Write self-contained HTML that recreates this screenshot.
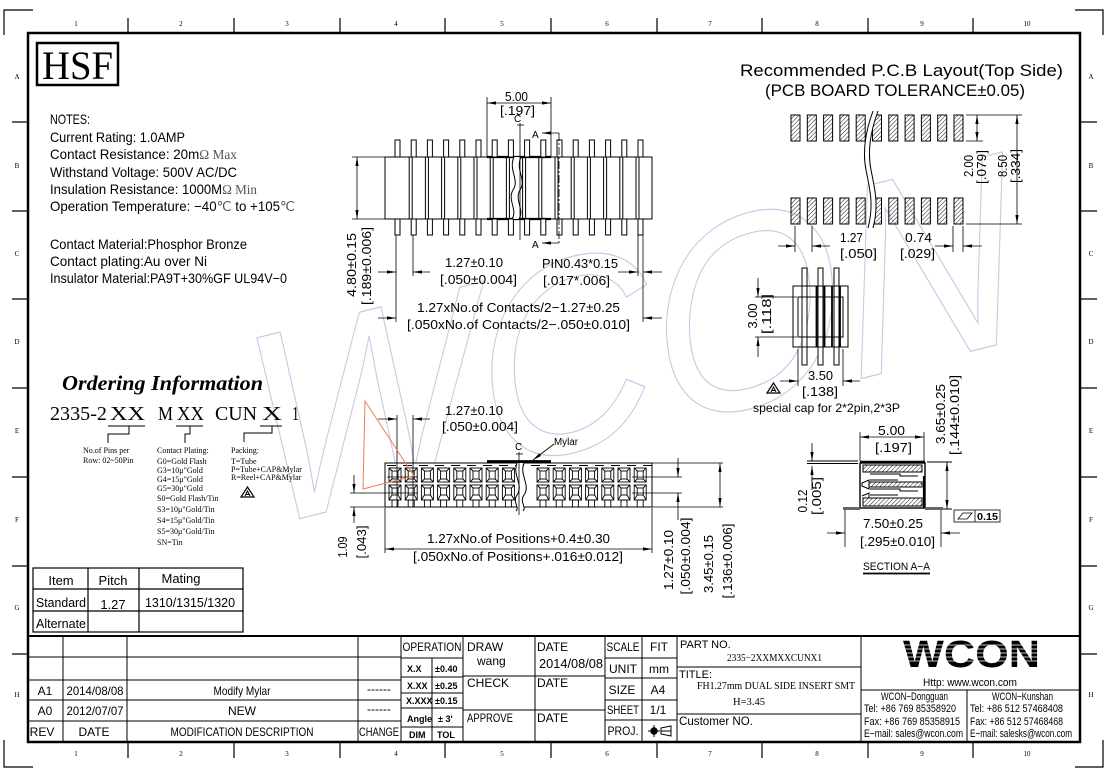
<!DOCTYPE html>
<html><head><meta charset="utf-8"><style>
html,body{margin:0;padding:0;background:#fff;}
svg{display:block;}
text{font-family:"Liberation Sans",sans-serif;fill:#000;}
.sf{font-family:"Liberation Serif",serif;}
</style></head><body>
<svg width="1109" height="780" viewBox="0 0 1109 780" xmlns="http://www.w3.org/2000/svg">
<defs>
<marker id="a" markerUnits="userSpaceOnUse" markerWidth="9" markerHeight="5" refX="9" refY="2.5" orient="auto-start-reverse"><path d="M0,0.9 L9,2.5 L0,4.1z" fill="#000"/></marker>
<pattern id="h" patternUnits="userSpaceOnUse" width="3" height="3" patternTransform="rotate(45)"><line x1="0" y1="0" x2="0" y2="3" stroke="#000" stroke-width="0.9"/></pattern>
<g id="pin"><rect x="0" y="140" width="5" height="17" fill="#fff" stroke="#000"/><rect x="0" y="219" width="5" height="16" fill="#fff" stroke="#000"/></g>
<g id="pad"><rect x="0" y="115" width="9" height="26" fill="url(#h)" stroke="#000"/><rect x="0" y="198" width="9" height="26" fill="url(#h)" stroke="#000"/></g>
<g id="sq" fill="none" stroke="#000" stroke-width="0.9">
<rect x="0" y="468" width="12" height="14"/><rect x="3" y="471" width="6" height="8"/>
<path d="M0,468L3,471M12,468L9,471M0,482L3,479M12,482L9,479"/>
<rect x="0" y="485" width="12" height="15"/><rect x="3" y="488" width="6" height="7"/>
<path d="M0,485L3,488M12,485L9,488M0,500L3,495M12,500L9,495"/>
<rect x="3" y="500" width="6" height="7"/>
</g>
<g id="warn"><path d="M0,10 L6.5,0 L13,10 Z" fill="none" stroke="#000" stroke-width="1.2"/><path d="M4,9 L6.5,4 L9,9 M5,7.5 H8" fill="none" stroke="#000" stroke-width="1"/></g>
</defs>

<!-- watermark -->
<text x="0" y="0" transform="translate(262,528) rotate(-14) skewX(-6)" font-size="270" font-style="italic" textLength="790" lengthAdjust="spacingAndGlyphs" style="fill:none;stroke:#c9c9e6;stroke-width:1.2">WCON</text>

<!-- frame -->
<rect x="28" y="33" width="1052" height="709" fill="none" stroke="#000" stroke-width="2.5"/>
<g stroke="#000" stroke-width="1.2" fill="none">
<path d="M33,10H4V35M1075,10H1103V35M4,740V767H33M1103,740V767H1075"/>
<path d="M128,18V33M234,18V33M340,18V33M445,18V33M551,18V33M657,18V33M762,18V33M868,18V33M973,18V33"/>
<path d="M128,742V758M234,742V758M340,742V758M445,742V758M551,742V758M657,742V758M762,742V758M868,742V758M973,742V758"/>
<path d="M12,122H28M12,211H28M12,299H28M12,388H28M12,477H28M12,566H28M12,654H28"/>
<path d="M1080,122H1097M1080,211H1097M1080,299H1097M1080,388H1097M1080,477H1097M1080,566H1097M1080,654H1097"/>
</g>
<g class="sf" font-size="7" fill="#555" text-anchor="middle">
<text x="76" y="26" class="sf">1</text><text x="181" y="26" class="sf">2</text><text x="287" y="26" class="sf">3</text><text x="396" y="26" class="sf">4</text><text x="502" y="26" class="sf">5</text><text x="607" y="26" class="sf">6</text><text x="710" y="26" class="sf">7</text><text x="817" y="26" class="sf">8</text><text x="922" y="26" class="sf">9</text><text x="1027" y="26" class="sf">10</text>
<text x="76" y="756" class="sf">1</text><text x="181" y="756" class="sf">2</text><text x="287" y="756" class="sf">3</text><text x="396" y="756" class="sf">4</text><text x="502" y="756" class="sf">5</text><text x="607" y="756" class="sf">6</text><text x="710" y="756" class="sf">7</text><text x="817" y="756" class="sf">8</text><text x="922" y="756" class="sf">9</text><text x="1027" y="756" class="sf">10</text>
<text x="17" y="79" class="sf">A</text><text x="17" y="168" class="sf">B</text><text x="17" y="256" class="sf">C</text><text x="17" y="344" class="sf">D</text><text x="17" y="433" class="sf">E</text><text x="17" y="522" class="sf">F</text><text x="17" y="610" class="sf">G</text><text x="17" y="697" class="sf">H</text>
<text x="1091" y="79" class="sf">A</text><text x="1091" y="168" class="sf">B</text><text x="1091" y="256" class="sf">C</text><text x="1091" y="344" class="sf">D</text><text x="1091" y="433" class="sf">E</text><text x="1091" y="522" class="sf">F</text><text x="1091" y="610" class="sf">G</text><text x="1091" y="697" class="sf">H</text>
</g>

<!-- HSF -->
<rect x="37" y="43" width="81" height="42" fill="none" stroke="#000" stroke-width="2.5"/>
<text x="42" y="79" class="sf" font-size="40" textLength="71" lengthAdjust="spacingAndGlyphs">HSF</text>

<!-- notes -->
<g font-size="14">
<text x="50" y="124" textLength="40" lengthAdjust="spacingAndGlyphs">NOTES:</text>
<text x="50" y="142" textLength="135" lengthAdjust="spacingAndGlyphs">Current Rating: 1.0AMP</text>
<text x="50" y="159" textLength="187" lengthAdjust="spacingAndGlyphs">Contact Resistance: 20m<tspan class="sf" fill="#555">Ω Max</tspan></text>
<text x="50" y="177" textLength="187" lengthAdjust="spacingAndGlyphs">Withstand Voltage: 500V AC/DC</text>
<text x="50" y="194" textLength="207" lengthAdjust="spacingAndGlyphs">Insulation Resistance: 1000M<tspan class="sf" fill="#555">Ω Min</tspan></text>
<text x="50" y="211" textLength="245" lengthAdjust="spacingAndGlyphs">Operation Temperature: −40<tspan class="sf" fill="#555">℃</tspan> to +105<tspan class="sf" fill="#555">℃</tspan></text>
<text x="50" y="249" textLength="197" lengthAdjust="spacingAndGlyphs">Contact Material:Phosphor Bronze</text>
<text x="50" y="266" textLength="157" lengthAdjust="spacingAndGlyphs">Contact plating:Au over Ni</text>
<text x="50" y="283" textLength="237" lengthAdjust="spacingAndGlyphs">Insulator Material:PA9T+30%GF UL94V−0</text>
</g>

<!-- TOP MIDDLE DRAWING -->
<g stroke="#000" fill="none" stroke-width="1">
<rect x="385" y="157" width="267" height="62" fill="#fff"/>
<path d="M409.2,157V219M412.2,157V219M425.4,157V219M428.4,157V219M441.6,157V219M444.6,157V219M457.8,157V219M460.8,157V219M474,157V219M477,157V219M490.2,157V219M493.2,157V219M506.4,157V219M509.4,157V219M522.6,157V219M525.6,157V219M538.8,157V219M541.8,157V219M555,157V219M558,157V219M571.2,157V219M574.2,157V219M587.4,157V219M590.4,157V219M603.6,157V219M606.6,157V219M619.8,157V219M622.8,157V219M636,157V219M639,157V219"/>
<path d="M487,157H551M487,219H551" stroke-width="2.2"/>
<path d="M514,157 C508,170 520,180 513,190 C507,200 518,210 512,219 L519,219 C525,210 514,200 520,190 C527,180 515,170 521,157 Z" fill="#fff" stroke="none"/>
<path d="M514,157 C508,170 520,180 513,190 C507,200 518,210 512,219 M521,157 C515,170 527,180 520,190 C514,200 525,210 519,219"/>
</g>
<use href="#pin" x="395"/><use href="#pin" x="411.2"/><use href="#pin" x="427.4"/><use href="#pin" x="443.6"/><use href="#pin" x="459.8"/><use href="#pin" x="476"/><use href="#pin" x="492.2"/><use href="#pin" x="508.4"/><use href="#pin" x="524.6"/><use href="#pin" x="540.8"/><use href="#pin" x="557"/><use href="#pin" x="573.2"/><use href="#pin" x="589.4"/><use href="#pin" x="605.6"/><use href="#pin" x="621.8"/><use href="#pin" x="638"/>
<g stroke="#000" fill="none" stroke-width="0.8">
<path d="M487,97V157M551,97V157"/>
<line x1="487" y1="103" x2="551" y2="103" marker-start="url(#a)" marker-end="url(#a)"/>
<path d="M520,123V240"/>
<path d="M517,125H524"/>
<path d="M559,133V243" stroke-dasharray="8,2,2,2"/>
<line x1="559" y1="133" x2="542" y2="133" marker-end="url(#a)"/>
<line x1="559" y1="243" x2="542" y2="243" marker-end="url(#a)"/>
<path d="M352,157H385M352,219H385"/>
<line x1="357" y1="157" x2="357" y2="219" marker-start="url(#a)" marker-end="url(#a)"/>
<path d="M396,235V322M413,235V276M638,235V276M643,235V322"/>
<line x1="378" y1="272" x2="396" y2="272" marker-end="url(#a)"/>
<line x1="430" y1="272" x2="413" y2="272" marker-end="url(#a)"/>
<line x1="618" y1="272" x2="638" y2="272" marker-end="url(#a)"/>
<line x1="662" y1="272" x2="643" y2="272" marker-end="url(#a)"/>
<line x1="378" y1="318" x2="396" y2="318" marker-end="url(#a)"/>
<line x1="662" y1="318" x2="643" y2="318" marker-end="url(#a)"/>
</g>
<g font-size="13">
<text x="505" y="101" textLength="23" lengthAdjust="spacingAndGlyphs">5.00</text>
<text x="500" y="115" textLength="35" lengthAdjust="spacingAndGlyphs">[.197]</text>
<text x="514" y="122" font-size="10">C</text>
<text x="532" y="138" font-size="10">A</text>
<text x="532" y="248" font-size="10">A</text>
<text transform="translate(356,265) rotate(-90)" text-anchor="middle" textLength="64" lengthAdjust="spacingAndGlyphs">4.80±0.15</text>
<text transform="translate(371,266) rotate(-90)" text-anchor="middle" textLength="78" lengthAdjust="spacingAndGlyphs">[.189±0.006]</text>
<text x="445" y="267" textLength="58" lengthAdjust="spacingAndGlyphs">1.27±0.10</text>
<text x="440" y="284" textLength="77" lengthAdjust="spacingAndGlyphs">[.050±0.004]</text>
<text x="542" y="268" textLength="76" lengthAdjust="spacingAndGlyphs">PIN0.43*0.15</text>
<text x="543" y="285" textLength="67" lengthAdjust="spacingAndGlyphs">[.017*.006]</text>
<text x="417" y="312" textLength="203" lengthAdjust="spacingAndGlyphs">1.27xNo.of Contacts/2−1.27±0.25</text>
<text x="407" y="329" textLength="223" lengthAdjust="spacingAndGlyphs">[.050xNo.of Contacts/2−.050±0.010]</text>
</g>

<!-- PCB LAYOUT -->
<text x="740" y="76" font-size="17" textLength="323" lengthAdjust="spacingAndGlyphs">Recommended P.C.B Layout(Top Side)</text>
<text x="765" y="96" font-size="17" textLength="260" lengthAdjust="spacingAndGlyphs">(PCB BOARD TOLERANCE±0.05)</text>
<use href="#pad" x="791"/><use href="#pad" x="807.3"/><use href="#pad" x="823.6"/><use href="#pad" x="839.9"/><use href="#pad" x="856.2"/><use href="#pad" x="872.5"/><use href="#pad" x="888.8"/><use href="#pad" x="905.1"/><use href="#pad" x="921.4"/><use href="#pad" x="937.7"/><use href="#pad" x="954"/>
<g stroke="#000" fill="none" stroke-width="1">
<path d="M873,111 C866,130 862,150 866,170 C870,190 874,205 868,228 L873,228 C879,205 875,190 871,170 C867,150 871,130 878,111 Z" fill="#fff" stroke="none"/>
<path d="M873,111 C866,130 862,150 866,170 C870,190 874,205 868,228 M878,111 C871,130 867,150 871,170 C875,190 879,205 873,228"/>
</g>
<g stroke="#000" fill="none" stroke-width="0.8">
<path d="M966,115H1022M966,141H983M966,224H1022"/>
<line x1="977" y1="115" x2="977" y2="141" marker-start="url(#a)" marker-end="url(#a)"/>
<line x1="1017" y1="115" x2="1017" y2="224" marker-start="url(#a)" marker-end="url(#a)"/>
<path d="M795,226V252M812,226V252M953,226V252M963,226V252"/>
<line x1="778" y1="246" x2="795" y2="246" marker-end="url(#a)"/>
<line x1="830" y1="246" x2="812" y2="246" marker-end="url(#a)"/>
<line x1="935" y1="246" x2="953" y2="246" marker-end="url(#a)"/>
<line x1="982" y1="246" x2="963" y2="246" marker-end="url(#a)"/>
</g>
<g font-size="13">
<text transform="translate(973,166) rotate(-90)" text-anchor="middle" textLength="22" lengthAdjust="spacingAndGlyphs">2.00</text>
<text transform="translate(986,167) rotate(-90)" text-anchor="middle" textLength="34" lengthAdjust="spacingAndGlyphs">[.079]</text>
<text transform="translate(1007,166) rotate(-90)" text-anchor="middle" textLength="22" lengthAdjust="spacingAndGlyphs">8.50</text>
<text transform="translate(1020,166) rotate(-90)" text-anchor="middle" textLength="34" lengthAdjust="spacingAndGlyphs">[.334]</text>
<text x="840" y="242" textLength="23" lengthAdjust="spacingAndGlyphs">1.27</text>
<text x="840" y="258" textLength="37" lengthAdjust="spacingAndGlyphs">[.050]</text>
<text x="905" y="242" textLength="27" lengthAdjust="spacingAndGlyphs">0.74</text>
<text x="900" y="258" textLength="35" lengthAdjust="spacingAndGlyphs">[.029]</text>
</g>

<!-- special cap -->
<g stroke="#000" fill="none" stroke-width="1">
<rect x="802" y="268" width="5" height="97" fill="#fff"/>
<rect x="818" y="268" width="5" height="97" fill="#fff"/>
<rect x="834" y="268" width="5" height="97" fill="#fff"/>
<path d="M793,286H848V347H793Z" />
<rect x="798" y="297" width="45" height="40"/>
<path d="M816.5,286V347M824.5,286V347M832,286V347M840,286V347" stroke-width="1.8"/>
</g>
<g stroke="#000" fill="none" stroke-width="0.8">
<path d="M755,297H797M755,337H797"/>
<line x1="758" y1="278" x2="758" y2="297" marker-end="url(#a)"/>
<line x1="758" y1="357" x2="758" y2="337" marker-end="url(#a)"/>
<path d="M798,349V386M843,349V386"/>
<line x1="780" y1="381" x2="798" y2="381" marker-end="url(#a)"/>
<line x1="860" y1="381" x2="843" y2="381" marker-end="url(#a)"/>
</g>
<g font-size="13">
<text transform="translate(757,316) rotate(-90)" text-anchor="middle" textLength="25" lengthAdjust="spacingAndGlyphs">3.00</text>
<text transform="translate(771,314) rotate(-90)" text-anchor="middle" textLength="40" lengthAdjust="spacingAndGlyphs">[.118]</text>
<text x="808" y="380" textLength="25" lengthAdjust="spacingAndGlyphs">3.50</text>
<text x="802" y="396" textLength="36" lengthAdjust="spacingAndGlyphs">[.138]</text>
<text x="753" y="412" font-size="12" textLength="147" lengthAdjust="spacingAndGlyphs">special cap for 2*2pin,2*3P</text>
</g>
<use href="#warn" x="767" y="383"/>

<!-- SECTION A-A -->
<g stroke="#000" fill="none" stroke-width="1">
<rect x="860" y="463" width="65" height="45" fill="#fff" stroke-width="1.4"/>
<rect x="863" y="465" width="59" height="7" fill="url(#h)"/>
<rect x="869" y="482" width="53" height="5" fill="url(#h)"/>
<rect x="863" y="498" width="59" height="8" fill="url(#h)"/>
<path d="M870,474H900V476H918M870,480H898M870,489H900V491H918M870,495H898"/>
<path d="M862,483 L869,480 V489 L862,486 Z M862,496 L869,493 V498"/>
<path d="M924,476V508" stroke-width="2.2"/>
<path d="M860,462H925" stroke-width="2.6"/>
<path d="M807,461H858M807,463.5H858M927,462H952M943,509H952"/>
<path d="M843,508.5H860M925,508.5H943" stroke="#666" stroke-width="3"/>
</g>
<g stroke="#000" fill="none" stroke-width="0.8">
<path d="M860,432V461M924,432V461"/>
<line x1="860" y1="437" x2="924" y2="437" marker-start="url(#a)" marker-end="url(#a)"/>
<line x1="947" y1="462" x2="947" y2="509" marker-start="url(#a)" marker-end="url(#a)"/>
<line x1="812" y1="443" x2="812" y2="461" marker-end="url(#a)"/>
<line x1="812" y1="490" x2="812" y2="466" marker-end="url(#a)"/>
<path d="M845,510V547M941,510V547"/>
<line x1="827" y1="533" x2="845" y2="533" marker-end="url(#a)"/>
<line x1="960" y1="533" x2="941" y2="533" marker-end="url(#a)"/>
<rect x="954" y="510" width="46" height="12"/>
<path d="M975,510V522M958,519 L963,513 H972 L967,519 Z"/>
</g>
<g font-size="13">
<text x="878" y="435" textLength="27" lengthAdjust="spacingAndGlyphs">5.00</text>
<text x="875" y="452" textLength="37" lengthAdjust="spacingAndGlyphs">[.197]</text>
<text transform="translate(945,414) rotate(-90)" text-anchor="middle" textLength="60" lengthAdjust="spacingAndGlyphs">3.65±0.25</text>
<text transform="translate(959,415) rotate(-90)" text-anchor="middle" textLength="80" lengthAdjust="spacingAndGlyphs">[.144±0.010]</text>
<text transform="translate(807,501) rotate(-90)" text-anchor="middle" textLength="23" lengthAdjust="spacingAndGlyphs">0.12</text>
<text transform="translate(821,496) rotate(-90)" text-anchor="middle" textLength="38" lengthAdjust="spacingAndGlyphs">[.005]</text>
<text x="863" y="528" textLength="60" lengthAdjust="spacingAndGlyphs">7.50±0.25</text>
<text x="860" y="546" textLength="75" lengthAdjust="spacingAndGlyphs">[.295±0.010]</text>
<text x="977" y="520" font-size="10" font-weight="bold" textLength="21" lengthAdjust="spacingAndGlyphs">0.15</text>
<text x="863" y="570" font-size="11" textLength="67" lengthAdjust="spacingAndGlyphs">SECTION A−A</text>
</g>
<path d="M863,573.5H930" stroke="#000" stroke-width="1.8"/>

<!-- BOTTOM MIDDLE DRAWING -->
<g stroke="#000" fill="none" stroke-width="1">
<rect x="385" y="463" width="267" height="44" fill="#fff"/>
<path d="M385,465.5H652" stroke-dasharray="9,7" stroke-dashoffset="-2"/>
</g>
<use href="#sq" x="389"/><use href="#sq" x="405.2"/><use href="#sq" x="421.4"/><use href="#sq" x="437.6"/><use href="#sq" x="453.8"/><use href="#sq" x="470"/><use href="#sq" x="486.2"/><use href="#sq" x="502.4"/>
<use href="#sq" x="537"/><use href="#sq" x="553.2"/><use href="#sq" x="569.4"/><use href="#sq" x="585.6"/><use href="#sq" x="601.8"/><use href="#sq" x="618"/><use href="#sq" x="634.2"/>
<g stroke="#000" fill="none" stroke-width="1">
<path d="M517,463 C512,475 524,485 517,495 C512,502 520,507 516,511 L523,511 C527,507 519,502 524,495 C531,485 519,475 524,463 Z" fill="#fff" stroke="none"/>
<path d="M517,463 C512,475 524,485 517,495 C512,502 520,507 516,511 M524,463 C519,475 531,485 524,495 C519,502 527,507 523,511"/>
<path d="M487,461.5H551" stroke-width="2.8"/>
</g>
<g stroke="#000" fill="none" stroke-width="0.8">
<path d="M387,477H418M632,477H682M350,493H418M632,493H682M350,507H385M652,507H723M652,463H723"/>
<path d="M519,452V515"/>
<path d="M516,454H523"/>
<path d="M397,415V507M413,415V507"/>
<line x1="378" y1="419" x2="397" y2="419" marker-end="url(#a)"/>
<line x1="430" y1="419" x2="413" y2="419" marker-end="url(#a)"/>
<line x1="554" y1="444" x2="533" y2="460" marker-end="url(#a)"/>
<line x1="678" y1="458" x2="678" y2="477" marker-end="url(#a)"/>
<line x1="678" y1="520" x2="678" y2="493" marker-end="url(#a)"/>
<line x1="720" y1="463" x2="720" y2="507" marker-start="url(#a)" marker-end="url(#a)"/>
<line x1="354" y1="475" x2="354" y2="493" marker-end="url(#a)"/>
<line x1="354" y1="523" x2="354" y2="507" marker-end="url(#a)"/>
<path d="M385,508V553M652,508V553"/>
<line x1="385" y1="549" x2="652" y2="549" marker-start="url(#a)" marker-end="url(#a)"/>
</g>
<polygon points="365,401 363,489 414,476" fill="none" stroke="#f07a55" stroke-width="1"/>
<g font-size="13">
<text x="445" y="415" textLength="58" lengthAdjust="spacingAndGlyphs">1.27±0.10</text>
<text x="442" y="431" textLength="76" lengthAdjust="spacingAndGlyphs">[.050±0.004]</text>
<text x="515" y="450" font-size="10">C</text>
<text x="554" y="445" font-size="10" textLength="24" lengthAdjust="spacingAndGlyphs">Mylar</text>
<text transform="translate(673,560) rotate(-90)" text-anchor="middle" textLength="60" lengthAdjust="spacingAndGlyphs">1.27±0.10</text>
<text transform="translate(690,556) rotate(-90)" text-anchor="middle" textLength="77" lengthAdjust="spacingAndGlyphs">[.050±0.004]</text>
<text transform="translate(713,564) rotate(-90)" text-anchor="middle" textLength="58" lengthAdjust="spacingAndGlyphs">3.45±0.15</text>
<text transform="translate(732,561) rotate(-90)" text-anchor="middle" textLength="75" lengthAdjust="spacingAndGlyphs">[.136±0.006]</text>
<text transform="translate(347,547) rotate(-90)" text-anchor="middle" textLength="21" lengthAdjust="spacingAndGlyphs">1.09</text>
<text transform="translate(366,542) rotate(-90)" text-anchor="middle" textLength="33" lengthAdjust="spacingAndGlyphs">[.043]</text>
<text x="427" y="543" textLength="183" lengthAdjust="spacingAndGlyphs">1.27xNo.of Positions+0.4±0.30</text>
<text x="413" y="561" textLength="210" lengthAdjust="spacingAndGlyphs">[.050xNo.of Positions+.016±0.012]</text>
</g>

<!-- ORDERING -->
<text x="62" y="390" class="sf" font-size="21" font-weight="bold" font-style="italic" textLength="201" lengthAdjust="spacingAndGlyphs">Ordering Information</text>
<g class="sf" font-size="20">
<text x="50" y="420" class="sf" textLength="57" lengthAdjust="spacingAndGlyphs">2335-2</text>
<text x="110" y="420" class="sf" textLength="35" lengthAdjust="spacingAndGlyphs">XX</text>
<text x="158" y="420" class="sf" textLength="15" lengthAdjust="spacingAndGlyphs">M</text>
<text x="177" y="420" class="sf" textLength="27" lengthAdjust="spacingAndGlyphs">XX</text>
<text x="215" y="420" class="sf" textLength="42" lengthAdjust="spacingAndGlyphs">CUN</text>
<text x="262" y="420" class="sf" textLength="20" lengthAdjust="spacingAndGlyphs">X</text>
<text x="292" y="420" class="sf" textLength="7" lengthAdjust="spacingAndGlyphs">1</text>
</g>
<g stroke="#000" fill="none" stroke-width="1">
<path d="M108,426H145M176,426H203M260,426H282"/>
<path d="M129,426V434H108V443M190,426V434H185V443M272,426V433H244V442"/>
</g>
<g class="sf" font-size="8">
<text x="83" y="453" class="sf">No.of Pins per</text>
<text x="83" y="463" class="sf">Row: 02~50Pin</text>
<text x="157" y="453" class="sf">Contact Plating:</text>
<text x="157" y="464" class="sf">G0=Gold Flash</text>
<text x="157" y="473" class="sf">G3=10μ"Gold</text>
<text x="157" y="482" class="sf">G4=15μ"Gold</text>
<text x="157" y="491" class="sf">G5=30μ"Gold</text>
<text x="157" y="501" class="sf">S0=Gold Flash/Tin</text>
<text x="157" y="512" class="sf">S3=10μ"Gold/Tin</text>
<text x="157" y="523" class="sf">S4=15μ"Gold/Tin</text>
<text x="157" y="534" class="sf">S5=30μ"Gold/Tin</text>
<text x="157" y="545" class="sf">SN=Tin</text>
<text x="231" y="453" class="sf">Packing:</text>
<text x="231" y="464" class="sf">T=Tube</text>
<text x="231" y="472" class="sf">P=Tube+CAP&amp;Mylar</text>
<text x="231" y="480" class="sf">R=Reel+CAP&amp;Mylar</text>
</g>
<use href="#warn" x="241" y="487"/>

<!-- table -->
<g stroke="#000" fill="none" stroke-width="1.2">
<rect x="33" y="568" width="210" height="64"/>
<path d="M33,589H243M33,611H243M88,568V632M139,568V632"/>
</g>
<g font-size="13" text-anchor="middle">
<text x="61" y="585">Item</text>
<text x="113" y="585">Pitch</text>
<text x="181" y="583">Mating</text>
<text x="61" y="607" textLength="50" lengthAdjust="spacingAndGlyphs">Standard</text>
<text x="113" y="609">1.27</text>
<text x="190" y="607" textLength="90" lengthAdjust="spacingAndGlyphs">1310/1315/1320</text>
<text x="61" y="628" textLength="50" lengthAdjust="spacingAndGlyphs">Alternate</text>
</g>

<!-- TITLE BLOCK -->
<g stroke="#000" fill="none" stroke-width="1">
<path d="M28,636H1080" stroke-width="2"/>
<path d="M28,657H401M28,680H401M28,700H401M28,721H401"/>
<path d="M63,636V742M127,636V742M358,636V742M401,636V742M463,636V742M535,636V742M605,636V742M642,636V742M677,636V742M861,636V742"/>
<path d="M401,658H463M401,677H463M401,693H463M401,708H463M401,727H463M432,658V742"/>
<path d="M463,676H605M463,710H605"/>
<path d="M605,658H677M605,678H677M605,700H677M605,720H677"/>
<path d="M677,667H861M677,714H861"/>
<path d="M861,690H1080M967,690V742"/>
</g>
<g font-size="12" text-anchor="middle">
<text x="45" y="695">A1</text>
<text x="95" y="695" textLength="57" lengthAdjust="spacingAndGlyphs">2014/08/08</text>
<text x="242" y="695" textLength="57" lengthAdjust="spacingAndGlyphs">Modify Mylar</text>
<text x="379" y="693">------</text>
<text x="45" y="715">A0</text>
<text x="95" y="715" textLength="57" lengthAdjust="spacingAndGlyphs">2012/07/07</text>
<text x="242" y="715">NEW</text>
<text x="379" y="713">------</text>
<text x="42" y="736">REV</text>
<text x="94" y="736">DATE</text>
<text x="242" y="736" textLength="143" lengthAdjust="spacingAndGlyphs">MODIFICATION DESCRIPTION</text>
<text x="379" y="736" textLength="40" lengthAdjust="spacingAndGlyphs">CHANGE</text>
<text x="432" y="651" textLength="59" lengthAdjust="spacingAndGlyphs">OPERATION</text>
<text x="623" y="651" textLength="33" lengthAdjust="spacingAndGlyphs">SCALE</text>
<text x="659" y="651">FIT</text>
<text x="623" y="673">UNIT</text>
<text x="659" y="673">mm</text>
<text x="622" y="694">SIZE</text>
<text x="658" y="694">A4</text>
<text x="623" y="714" textLength="32" lengthAdjust="spacingAndGlyphs">SHEET</text>
<text x="658" y="714">1/1</text>
<text x="623" y="735" textLength="31" lengthAdjust="spacingAndGlyphs">PROJ.</text>
</g>
<g font-size="9" font-weight="bold">
<text x="407" y="672">X.X</text><text x="435" y="672">±0.40</text>
<text x="407" y="689">X.XX</text><text x="435" y="689">±0.25</text>
<text x="406" y="704">X.XXX</text><text x="435" y="704">±0.15</text>
<text x="407" y="722">Angle</text><text x="438" y="722">± 3'</text>
<text x="409" y="738">DIM</text><text x="437" y="738">TOL</text>
</g>
<g font-size="12">
<text x="467" y="651">DRAW</text>
<text x="477" y="665">wang</text>
<text x="467" y="687">CHECK</text>
<text x="467" y="722" textLength="46" lengthAdjust="spacingAndGlyphs">APPROVE</text>
<text x="537" y="651">DATE</text>
<text x="539" y="668" font-size="13" textLength="64" lengthAdjust="spacingAndGlyphs">2014/08/08</text>
<text x="537" y="687">DATE</text>
<text x="537" y="722">DATE</text>
<text x="680" y="648" font-size="11">PART NO.</text>
<text x="727" y="661" class="sf" font-size="10" textLength="95" lengthAdjust="spacingAndGlyphs">2335−2XXMXXCUNX1</text>
<text x="679" y="678" font-size="11">TITLE:</text>
<text x="697" y="689" class="sf" font-size="10" textLength="158" lengthAdjust="spacingAndGlyphs">FH1.27mm DUAL SIDE INSERT SMT</text>
<text x="733" y="705" class="sf" font-size="10" textLength="32" lengthAdjust="spacingAndGlyphs">H=3.45</text>
<text x="679" y="725" textLength="74" lengthAdjust="spacingAndGlyphs">Customer NO.</text>
</g>
<!-- projection symbol -->
<g stroke="#000" fill="none" stroke-width="1">
<circle cx="654" cy="731" r="3.2" fill="#000"/>
<path d="M648,731H660M654,725V737M661,728 L671,726 V736 L661,734 Z M661,731H671"/>
</g>
<!-- WCON logo -->
<text x="903" y="667" font-size="38" font-weight="bold" fill="#1a1a1a" textLength="137" lengthAdjust="spacingAndGlyphs">WCON</text>
<g stroke="#fff" stroke-width="0.7">
<path d="M900,645H1042M900,649H1042M900,653H1042M900,657H1042M900,661H1042"/>
</g>
<g font-size="11">
<text x="923" y="686" textLength="94" lengthAdjust="spacingAndGlyphs">Http: www.wcon.com</text>
<text x="881" y="700" textLength="67" lengthAdjust="spacingAndGlyphs">WCON−Dongguan</text>
<text x="864" y="712" textLength="92" lengthAdjust="spacingAndGlyphs">Tel: +86 769 85358920</text>
<text x="864" y="725" textLength="96" lengthAdjust="spacingAndGlyphs">Fax: +86 769 85358915</text>
<text x="864" y="737" textLength="99" lengthAdjust="spacingAndGlyphs">E−mail: sales@wcon.com</text>
<text x="992" y="700" textLength="61" lengthAdjust="spacingAndGlyphs">WCON−Kunshan</text>
<text x="970" y="712" textLength="93" lengthAdjust="spacingAndGlyphs">Tel: +86 512 57468408</text>
<text x="970" y="725" textLength="93" lengthAdjust="spacingAndGlyphs">Fax: +86 512 57468468</text>
<text x="970" y="737" textLength="102" lengthAdjust="spacingAndGlyphs">E−mail: salesks@wcon.com</text>
</g>
</svg>
</body></html>
